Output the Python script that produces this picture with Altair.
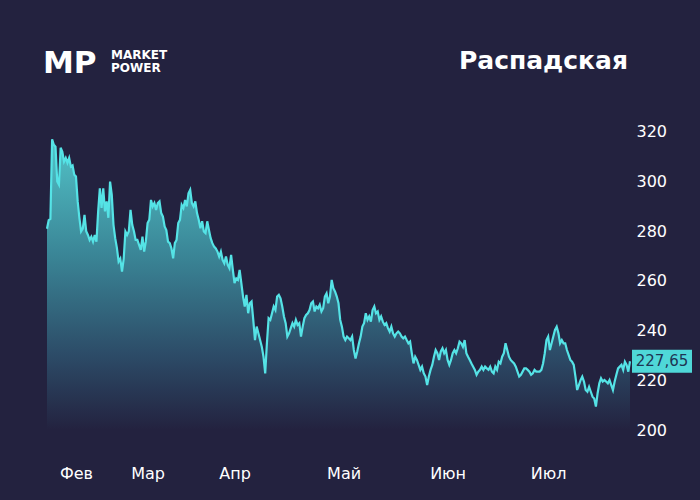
import altair as alt
import pandas as pd

# ---- data: closing prices (chronological order) ----
feb = [281, 284.5, 285, 317, 314.8, 314, 300, 298.7, 313.6, 312, 308, 309.5, 307.5, 309.5,
       306, 306.5, 302.7, 302, 292, 285.4, 279.9, 281, 286.6, 280, 278.5, 276.5, 277.8, 275.8,
       278.5, 275.8, 287.9, 297.3, 289.4, 297.3, 288, 292, 285.4, 300, 294.6, 282.6, 277.2,
       273.3, 267.8, 269, 263.8, 269, 279.9, 278.5, 280, 288.6, 282.6, 280, 276.5]
mar = [276.5, 274.5, 272.5, 277.8, 271.8, 276, 283.3, 284.6, 292.6, 290, 291.3, 288.6, 291.3,
       292, 287.3, 285.9, 281.9, 280.5, 275.8, 275.2, 273.1, 269.1, 275.2, 276.5, 283.3, 284.6,
       290.6, 289.3, 292.6, 290, 295.3, 296.7, 291.3, 290, 292, 287.3, 284.6, 281.2, 284, 279.9,
       279.2, 284, 280.5, 277.2, 275.2, 273.8, 273.1, 271.8, 269.8, 271.8, 268.5, 267.1, 269.8,
       266.5, 265.1, 270.5, 264.5, 259.1]
apr = [261, 260.4, 264.4, 259.1, 253.7, 249.7, 254.4, 247, 251, 251.7, 244.3, 236.2, 241.6,
       238.9, 236.2, 233.5, 229.5, 222.8, 234.9, 245, 244.3, 247, 249.7, 248.3, 253.7, 254.4,
       253, 249.7, 245.7, 243, 237.6, 238.9, 241, 243, 241.6, 244.3, 242.3, 243, 237.6, 241.6,
       245, 246.3, 247, 248.3, 251, 251.7, 247.7, 249.7, 249, 250.4, 247.7, 249, 253.7, 255,
       251, 253.7, 260.4, 257, 255.7, 253.7, 251]
may = [244.3, 241.6, 237.6, 236.2, 237.6, 236.9, 236.2, 237.6, 232.2, 228.8, 231.6, 234.9,
       237.6, 241.6, 243, 247, 244.3, 245.7, 243.6, 248.3, 249.7, 247, 247.7, 244.3, 245.7,
       243.6, 242.3, 243, 241, 239.6, 241.6, 238.9, 237.6, 238.9, 239.6, 238.9, 237.6, 236.9,
       237.6, 236.2, 234.9, 235.6, 230.9, 226.8, 229.5, 228.2, 226.2, 224.2, 225.5, 222.8,
       221.5, 218.1, 221.5, 224.2, 226.2, 229.5, 232.2, 230.9, 228.2, 231.6, 232.9, 230.9,
       232.2, 228.2, 226.2, 228.2, 230.9, 232.2, 230.9, 232.9, 235.6]
jun_jul = [234.9, 233.5, 236.2, 230.9, 229.5, 228.2, 226.8, 225.5, 224.2, 222.2, 223.5, 224.2,
           225.5, 224.2, 225.5, 224.8, 224.2, 225.5, 223.5, 222.8, 225.5, 224.2, 227.5, 226.8,
           229.5, 230.9, 234.9, 232.2, 229.5, 228.2, 227.5, 226.8, 225.5, 223.5, 221.5, 222.2,
           223.5, 224.8, 224.8, 224.2, 223.5, 222.2, 222.8, 224.2, 223.5, 223.5, 223.5, 224.2,
           226.8, 230.9, 236.2, 237.6, 232.2, 234.9, 237.6, 240.3, 241.6, 239, 234.9, 236.2,
           234.9, 234.9, 232.2, 230.2, 228.2, 227.5, 226.2, 221.5, 216.1, 218.1, 220.1, 221.5,
           219.5, 216.1, 215.4, 217.4, 215.4, 213.4, 212.7, 209.4, 214.8, 218.8, 220.8, 219.5,
           220.1, 219.5, 218.8, 220.1, 218.1, 216.1, 219.5, 222.2, 224.8, 225.5, 226.2, 224.2,
           227.5, 226.2, 223.5, 227.65]

month_names = ["Фев", "Мар", "Апр", "Май", "Июн", "Июл"]
month_pos = [17, 59, 110, 174, 235, 294]
y_ticks = [200, 220, 240, 260, 280, 300, 320]
y_domain = [200, 330]
title_text = "Распадская"

prices = feb + mar + apr + may + jun_jul
n = len(prices)
df = pd.DataFrame({"i": list(range(n)), "price": prices})
last_label = f"{prices[-1]:.2f}".replace(".", ",")

BG = "#23223f"
LINE = "#55e3e6"
FONT = "DejaVu Sans"

label_expr = " : ".join(
    f"datum.value == {p} ? '{m}'" for p, m in zip(month_pos, month_names)
) + " : ''"

x_enc = alt.X("i:Q", scale=alt.Scale(domain=[0, n - 1], nice=False, zero=False),
              axis=alt.Axis(values=month_pos, labelExpr=label_expr, title=None, domain=False,
                            ticks=False, grid=False, labelColor="white", labelFontSize=16,
                            labelFont=FONT, labelPadding=43, labelBaseline="middle",
                            labelAlign="center", labelFlush=False))
y_enc = alt.Y("price:Q", scale=alt.Scale(domain=y_domain, nice=False, zero=False),
              axis=alt.Axis(orient="right", values=y_ticks, format="d", title=None,
                            domain=False, ticks=False, grid=False, labelColor="white",
                            labelFontSize=16, labelFont=FONT, labelPadding=6))

area = alt.Chart().mark_area(
    color=alt.Gradient(
        gradient="linear",
        stops=[alt.GradientStop(color="#52c3c8", offset=0),
               alt.GradientStop(color="#3a8596", offset=0.4),
               alt.GradientStop(color="#2c4a66", offset=0.75),
               alt.GradientStop(color=BG, offset=1)],
        x1=1, x2=1, y1=0, y2=1,
    ),
).encode(y2=alt.datum(y_domain[0]))

line = alt.Chart().mark_line(color=LINE, strokeWidth=2.2)

last = alt.Chart().transform_filter(alt.datum.i == n - 1)
box = last.mark_rect(width=60, height=23, xOffset=32, color="#4fd8d8")
box_text = last.mark_text(dx=32, align="center", baseline="middle", font=FONT, fontSize=15,
                          color="#1e3554").encode(text=alt.value(last_label))

series = alt.layer(area, line, box, box_text, data=df).encode(x=x_enc, y=y_enc)

one = pd.DataFrame({"k": [0]})
logo_mp = alt.Chart(one).mark_text(align="left", baseline="alphabetic", font=FONT, fontSize=31,
                                   fontWeight=900, color="white").encode(
    x=alt.value(-4), y=alt.value(-34), text=alt.value("MP"))
logo_1 = alt.Chart(one).mark_text(align="left", baseline="alphabetic", font=FONT, fontSize=12,
                                  fontWeight="bold", color="white").encode(
    x=alt.value(64), y=alt.value(-48), text=alt.value("MARKET"))
logo_2 = alt.Chart(one).mark_text(align="left", baseline="alphabetic", font=FONT, fontSize=12,
                                  fontWeight="bold", color="white").encode(
    x=alt.value(64), y=alt.value(-35.5), text=alt.value("POWER"))
title = alt.Chart(one).mark_text(align="right", baseline="alphabetic", font=FONT, fontSize=25,
                                 fontWeight="bold", color="white").encode(
    x=alt.value(581), y=alt.value(-38.5), text=alt.value(title_text))

chart = alt.layer(series, logo_mp, logo_1, logo_2, title).properties(
    width=583, height=323,
    background=BG,
    padding={"left": 47, "top": 107, "right": 70, "bottom": 70},
    autosize=alt.AutoSizeParams(type="none"),
).configure_view(stroke=None)

chart.save("out.html", embed_options={"renderer": "svg", "actions": False})
